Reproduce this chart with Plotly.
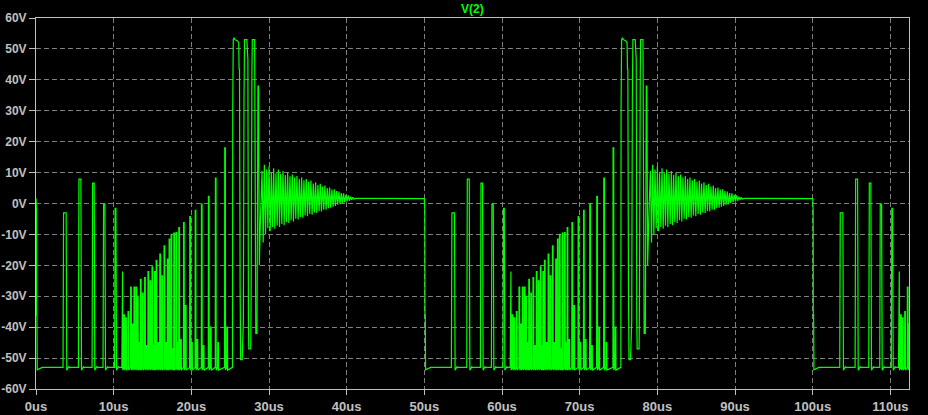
import plotly.graph_objects as go

# ---------------- data (one 50 us period, repeated) ----------------
period_us = 50.0
n_periods = 3
base_v = -53.0          # resting level between pulses (V)
dip_v = -53.9           # small undershoot right after each fall (V)

# start of each period: fall from the flat level
start_t = [0.00, 0.04, 0.06, 0.08, 0.12, 0.16, 0.40, 0.80]
start_v = [1.6, -2.0, -2.2, -36.0, -36.0, -53.8, -53.5, -53.0]

# first isolated pulses (rise shoulder, peak, fall shoulder)
early_t0 = [3.48, 5.46, 7.22, 8.63, 10.12]
early_w = [0.48, 0.40, 0.35, 0.32, 0.25]
early_s1 = [-29.4, -0.2, -14.2, -42.8, -30.0]
early_pk = [-3.0, 7.9, 6.6, -0.2, -1.6]
early_s2 = [-25.5, -31.5, -32.0, -24.5, -35.0]

# dense pulse train (start time, peak)
dense_t = [11.05, 11.30, 11.53, 11.83, 12.17, 12.36, 12.60, 12.86, 13.05, 13.27,
           13.43, 13.69, 13.97, 14.18, 14.40, 14.66, 14.92, 15.10, 15.24, 15.45,
           15.68, 15.92, 16.18, 16.47, 16.70, 16.90, 17.12, 17.38, 17.58, 17.73,
           18.02, 18.22, 18.37, 18.60, 18.98, 19.22, 19.78, 20.02, 20.48, 20.72,
           21.28, 21.52, 22.18, 22.45, 23.08, 23.38, 24.28, 24.55]
dense_pk = [-22.0, -36.0, -37.0, -35.0, -27.0, -39.0, -27.0, -27.0, -30.0, -45.0,
            -24.5, -29.0, -24.0, -46.0, -22.0, -25.0, -20.5, -46.0, -22.0, -18.4,
            -45.0, -16.4, -23.4, -13.7, -45.0, -18.0, -11.5, -10.0, -47.0, -9.6,
            -9.4, -45.0, -7.8, -44.0, -6.2, -33.0, -4.2, -45.0, -2.2, -44.0,
            -0.2, -46.0, 2.3, -40.0, 8.2, -45.0, 18.0, -40.0]
dense_w = 0.10

# the three ~53 V pulses
big_t = [25.30, 25.33, 25.40, 25.50, 25.60, 25.95, 26.10, 26.15, 26.20, 26.28,
         26.35, 26.55, 26.62, 26.70, 26.78, 26.85, 27.15, 27.20, 27.28, 27.35,
         27.40, 27.65, 27.70, 27.80, 27.85, 28.15, 28.20, 28.30, 28.45, 28.50,
         28.58, 28.65, 28.75, 28.82, 28.90]
big_v = [-53.0, 31.6, 53.0, 53.6, 53.0, 52.6, 52.0, 43.5, 43.5, -26.7,
         -50.5, -50.5, -38.0, -38.0, 34.0, 53.0, 53.0, 46.7, 46.7, -38.0,
         -47.0, -47.0, -30.0, 42.4, 53.0, 53.0, 11.0, -42.0, -42.0, 30.0,
         38.0, 38.0, -20.0, -13.0, -5.0]

# decaying ringing: upper and lower extremes
ring_up_t = [29.10, 29.40, 29.70, 30.00, 30.30, 30.60, 30.90, 31.20, 31.50, 31.80,
             32.10, 32.40, 32.70, 33.00, 33.30, 33.60, 33.90, 34.20, 34.50, 34.80,
             35.10, 35.40, 35.70, 36.00, 36.30, 36.60, 36.90, 37.20, 37.50, 37.80,
             38.10, 38.40, 38.70, 39.00, 39.30, 39.60, 39.90, 40.20, 40.50, 40.80]
ring_up_v = [10.6, 12.5, 11.0, 12.0, 10.2, 11.4, 9.8, 11.0, 9.6, 10.5,
             9.2, 10.0, 8.8, 9.4, 8.4, 8.9, 7.9, 8.4, 7.5, 7.9,
             7.0, 7.4, 6.5, 6.9, 6.0, 6.4, 5.5, 5.8, 5.0, 5.2,
             4.5, 4.6, 4.0, 3.9, 3.4, 3.3, 2.8, 2.6, 2.2, 2.0]
ring_dn_t = [29.25, 29.55, 29.85, 30.15, 30.45, 30.75, 31.05, 31.35, 31.65, 31.95,
             32.25, 32.55, 32.85, 33.15, 33.45, 33.75, 34.05, 34.35, 34.65, 34.95,
             35.25, 35.55, 35.85, 36.15, 36.45, 36.75, 37.05, 37.35, 37.65, 37.95,
             38.25, 38.55, 38.85, 39.15, 39.45, 39.75, 40.05, 40.35, 40.65, 40.95]
ring_dn_v = [-12.6, -10.0, -8.0, -9.0, -7.6, -8.2, -7.2, -7.6, -6.6, -7.0,
             -6.0, -6.3, -5.4, -5.8, -4.9, -5.2, -4.4, -4.6, -3.9, -4.1,
             -3.4, -3.6, -2.9, -3.1, -2.5, -2.6, -2.0, -2.0, -1.5, -1.4,
             -1.0, -0.8, -0.4, -0.2, 0.2, 0.4, 0.7, 0.9, 1.2, 1.4]

# flat level at the end of each period
end_t = [41.1, 50.0]
end_v = [1.7, 1.6]

x_ticks = [0, 10, 20, 30, 40, 50, 60, 70, 80, 90, 100, 110]
x_labels = ["0us", "10us", "20us", "30us", "40us", "50us", "60us", "70us",
            "80us", "90us", "100us", "110us"]
y_ticks = [-60, -50, -40, -30, -20, -10, 0, 10, 20, 30, 40, 50, 60]
y_labels = ["-60V", "-50V", "-40V", "-30V", "-20V", "-10V", "0V", "10V",
            "20V", "30V", "40V", "50V", "60V"]
x_range = [0, 112.4]
y_range = [-60, 60]


# ---------------- build one period as a polyline ----------------
def one_period():
    pts = list(zip(start_t, start_v))
    for t0, w, s1, pk, s2 in zip(early_t0, early_w, early_s1, early_pk, early_s2):
        pts += [(t0, base_v), (t0 + 0.01, s1), (t0 + 0.05, s1), (t0 + 0.07, pk),
                (t0 + w - 0.08, pk), (t0 + w - 0.06, s2), (t0 + w - 0.02, s2),
                (t0 + w, dip_v), (t0 + w + 0.25, base_v + 0.2), (t0 + w + 0.35, base_v)]
    for t0, pk in zip(dense_t, dense_pk):
        pts += [(t0, base_v), (t0 + 0.02, pk), (t0 + dense_w, pk),
                (t0 + dense_w + 0.02, dip_v)]
    pts += list(zip(big_t, big_v))
    ring = sorted(list(zip(ring_up_t, ring_up_v)) + list(zip(ring_dn_t, ring_dn_v)))
    pts += ring
    pts += list(zip(end_t, end_v))
    return pts


xs, ys = [], []
for k in range(n_periods):
    for t, v in one_period():
        tt = t + k * period_us
        if tt <= x_range[1] + 1:
            xs.append(tt)
            ys.append(v)

fig = go.Figure()
fig.add_trace(go.Scatter(x=xs, y=ys, mode="lines",
                         line=dict(color="#00ff00", width=1.2), hoverinfo="skip"))

x_font = dict(family="Liberation Sans", size=13, color="#c0c0c0", weight="bold")
y_font = dict(family="Liberation Sans", size=12, color="#c0c0c0", weight="bold")
common = dict(showgrid=True, gridcolor="#808080", griddash="5px,3px", gridwidth=1,
              showline=True, linecolor="#c0c0c0", linewidth=1, mirror=True,
              ticks="outside", tickcolor="#c0c0c0", tickwidth=1, zeroline=False,
              fixedrange=True, automargin=False)

fig.update_layout(
    width=928, height=415,
    paper_bgcolor="#000000", plot_bgcolor="#000000",
    margin=dict(l=36, r=19, t=18, b=26, pad=0),
    showlegend=False,
    xaxis=dict(range=x_range, tickvals=x_ticks, ticktext=x_labels, ticklen=5,
               tickfont=x_font, **common),
    yaxis=dict(range=y_range, tickvals=y_ticks, ticktext=y_labels, ticklen=6,
               tickfont=y_font, **common),
    annotations=[dict(text="V(2)", xref="paper", yref="paper", x=0.5, y=1,
                      yanchor="middle", yshift=9, showarrow=False,
                      font=dict(family="Liberation Sans", size=12, color="#00ff00",
                                weight="bold"))],
)

fig.write_html(
    "out.html",
    config={"displayModeBar": False, "staticPlot": True},
    post_script="document.body.style.margin='0';document.body.style.overflow='hidden';",
)
